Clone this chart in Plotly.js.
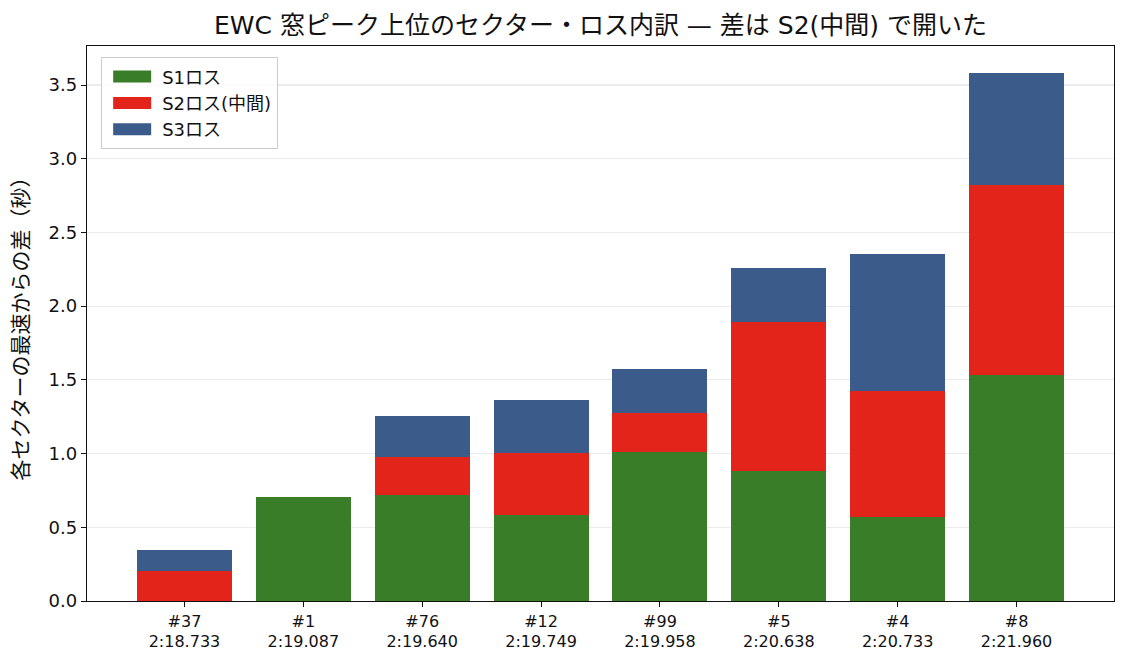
<!DOCTYPE html>
<html>
<head>
<meta charset="utf-8">
<script src="https://cdn.plot.ly/plotly-3.0.1.min.js"></script>
<style>
  body { margin: 0; background: #fff; }
  #chart { width: 1129px; height: 670px; }
</style>
</head>
<body>
<div id="chart"></div>
<script>
const cars = ["#37", "#1", "#76", "#12", "#99", "#5", "#4", "#8"];
const lapTimes = ["2:18.733", "2:19.087", "2:19.640", "2:19.749", "2:19.958", "2:20.638", "2:20.733", "2:21.960"];
const s1Loss = [0.0, 0.707, 0.721, 0.585, 1.013, 0.884, 0.571, 1.532];
const s2Loss = [0.204, 0.0, 0.258, 0.421, 0.265, 1.006, 0.852, 1.288];
const s3Loss = [0.143, 0.0, 0.279, 0.360, 0.299, 0.367, 0.929, 0.762];

const labels = cars.map((c, i) => c + "<br>" + lapTimes[i]);
// latin glyphs from DejaVu, kana/kanji fall through to Noto CJK
const font = "DejaVu Sans, Noto Sans CJK JP, sans-serif";

function series(name, y, color) {
  return {
    type: "bar",
    name: name,
    x: labels,
    y: y,
    marker: { color: color, line: { width: 0 } },
    width: 0.8
  };
}

const data = [
  series("S1ロス", s1Loss, "#3a7d29"),
  series("S2ロス(中間)", s2Loss, "#e2241b"),
  series("S3ロス", s3Loss, "#3b5b8b")
];

const layout = {
  width: 1129,
  height: 670,
  barmode: "stack",
  paper_bgcolor: "#fff",
  plot_bgcolor: "#fff",
  margin: { l: 87, r: 15, t: 46, b: 69 },
  font: { family: font, color: "#111", size: 16 },
  title: {
    text: "EWC 窓ピーク上位のセクター・ロス内訳 — 差は S2(中間) で開いた",
    font: { size: 25, color: "#111" },
    xref: "paper", x: 0.5, xanchor: "center", y: 0.962, yanchor: "middle"
  },
  xaxis: {
    type: "category",
    range: [-0.82, 7.82],
    showline: true, linecolor: "#111", linewidth: 1.3, mirror: true,
    ticks: "outside", ticklen: 5, tickcolor: "#111",
    tickfont: { size: 16 },
    showgrid: false
  },
  yaxis: {
    range: [0, 3.765],
    dtick: 0.5, tickformat: ".1f",
    showline: true, linecolor: "#111", linewidth: 1.3, mirror: true,
    ticks: "outside", ticklen: 5, tickcolor: "#111",
    tickfont: { size: 18 },
    showgrid: true, gridcolor: "rgba(176,176,176,0.25)", gridwidth: 1.2,
    zeroline: false,
    layer: "above traces",
    title: { text: "各セクターの最速からの差（秒）", font: { size: 21 }, standoff: 14 }
  },
  legend: {
    x: 0.0136, y: 0.98, xanchor: "left", yanchor: "top",
    bgcolor: "rgba(255,255,255,0.85)",
    bordercolor: "#cccccc", borderwidth: 1.2,
    font: { size: 18 },
    itemwidth: 50,
    traceorder: "normal"
  },
  showlegend: true
};

Plotly.newPlot("chart", data, layout, { displayModeBar: false, staticPlot: true }).then(() => {
  // stretch the legend swatches into wide rectangles like the original
  document.querySelectorAll(".legendpoints path").forEach((p) => {
    p.setAttribute("d", "M-19,-6H19V6H-19Z");
  });
});
</script>
</body>
</html>
